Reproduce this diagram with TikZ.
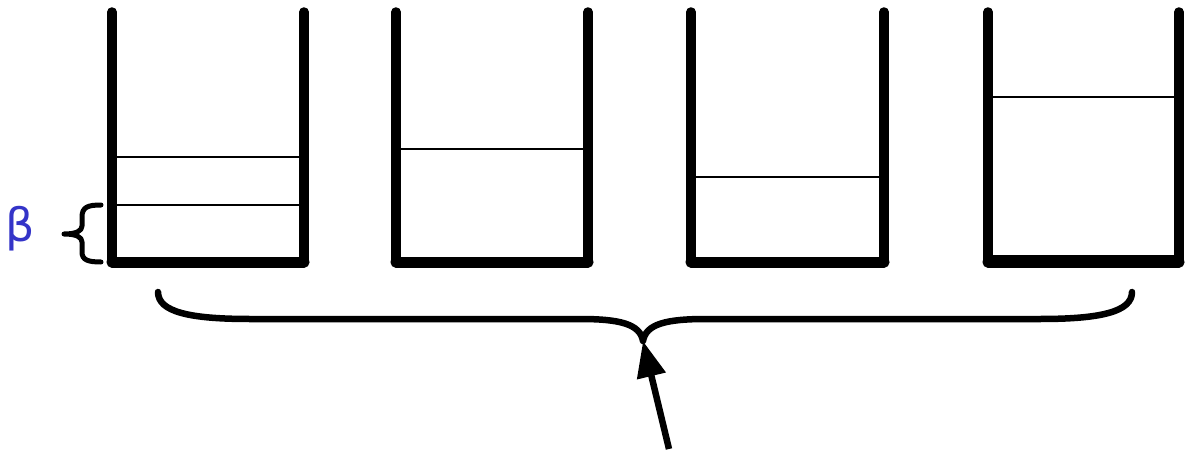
\documentclass[tikz,border=0pt]{standalone}
\usepackage{fontspec}
\newfontfamily\greekfont{DejaVu Sans}
\usetikzlibrary{arrows.meta}
\definecolor{betablue}{HTML}{3434C8}
\begin{document}
\begin{tikzpicture}[x=1pt,y=-1pt,
  wall/.style={line width=9.5pt,line cap=round},
  floor/.style={line width=11pt,line cap=round},
  level/.style={line width=2.4pt},
  brace/.style={line width=6.5pt,line cap=round,line join=round},
  smallbrace/.style={line width=5pt,line cap=round,line join=round},
  pointer/.style={line width=6.5pt,-{Triangle[length=36pt,width=28pt]}}]
\useasboundingbox (0,0) rectangle (1186,452);
% four containers: left x, right x
\foreach \l/\r [count=\i] in {112/304,396/588,691/884,988/1179}{
  \coordinate (tl\i) at (\l,12);
  \coordinate (bl\i) at (\l,262);
  \coordinate (tr\i) at (\r,12);
  \coordinate (br\i) at (\r,262);
  \draw[wall] (tl\i) -- (bl\i);
  \draw[wall] (tr\i) -- (br\i);
  \draw[floor] (bl\i) -- (br\i);
}
% fill levels
\draw[level] (116,157) -- (300,157);
\draw[level] (116,205) -- (300,205);
\draw[level] (400,149) -- (584,149);
\draw[level] (695,177) -- (880,177);
\draw[level] (992,97) -- (1175,97);
\draw[level] (992,256) -- (1175,256);
% small brace for beta
\draw[smallbrace] (101,205) .. controls (88,205) and (82,207) .. (82,217)
  -- (82,226) .. controls (82,231) and (76,234) .. (64,234)
  .. controls (76,234) and (82,237) .. (82,242)
  -- (82,252) .. controls (82,260) and (88,262) .. (101,262);
\node[text=betablue,font=\greekfont\fontsize{46}{46}\selectfont,inner sep=0pt] (beta) at (20,229) {β};
% large brace under containers
\coordinate (btip) at (643,341);
\draw[brace] (158,292) .. controls (158,312) and (190,319) .. (250,319)
  -- (580,319) .. controls (620,319) and (640,324) .. (btip)
  .. controls (646,324) and (666,319) .. (706,319)
  -- (1040,319) .. controls (1100,319) and (1132,312) .. (1132,292);
\coordinate (tail) at (669,449);
\draw[pointer] (tail) -- (btip);
\end{tikzpicture}
\end{document}
